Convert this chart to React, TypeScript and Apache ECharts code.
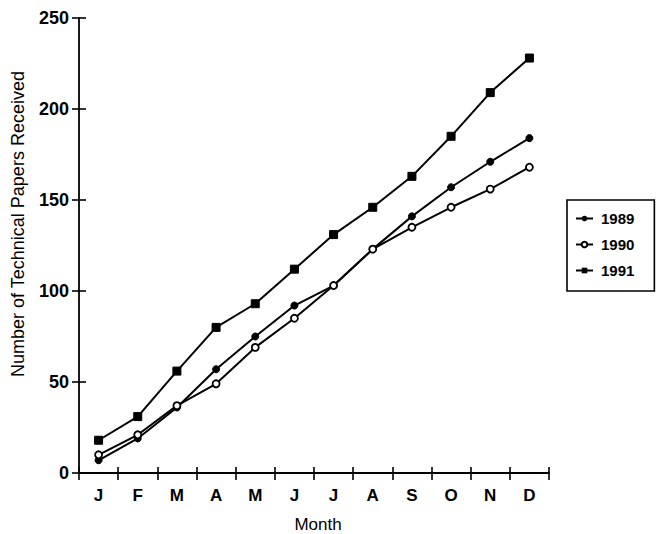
import React, { useEffect, useRef } from "react";
import * as echarts from "echarts";

const months = ["J", "F", "M", "A", "M", "J", "J", "A", "S", "O", "N", "D"];
const papers1989 = [7, 19, 36, 57, 75, 92, 103, 123, 141, 157, 171, 184];
const papers1990 = [10, 21, 37, 49, 69, 85, 103, 123, 135, 146, 156, 168];
const papers1991 = [18, 31, 56, 80, 93, 112, 131, 146, 163, 185, 209, 228];
const yTicks = { min: 0, max: 250, interval: 50 };

const FONT = "'Liberation Sans', Arial, Helvetica, sans-serif";

export default function App() {
  const ref = useRef<HTMLDivElement>(null);

  useEffect(() => {
    if (!ref.current) return;
    const chart = echarts.init(ref.current, null, { renderer: "svg" });
    const lineStyle = { color: "#000", width: 2 };
    const axisLine = { show: true, lineStyle: { color: "#000", width: 1.8 } };
    const tickStyle = { color: "#000", width: 1.6 };

    chart.setOption({
      animation: false,
      backgroundColor: "#fff",
      textStyle: { fontFamily: FONT },
      grid: { left: 79, right: 109, top: 18, bottom: 61, containLabel: false },
      xAxis: [
        {
          type: "category",
          data: months,
          position: "bottom",
          boundaryGap: true,
          axisLine,
          axisTick: { show: true, inside: false, length: 7, lineStyle: tickStyle },
          axisLabel: {
            color: "#000",
            fontSize: 17,
            fontWeight: "bold",
            fontFamily: FONT,
            margin: 14,
          },
          splitLine: { show: false },
        },
        {
          type: "category",
          data: months,
          position: "bottom",
          boundaryGap: true,
          axisLine: { show: false },
          axisTick: { show: true, inside: true, length: 6, lineStyle: tickStyle },
          axisLabel: { show: false },
          splitLine: { show: false },
        },
      ],
      yAxis: [
        {
          type: "value",
          position: "left",
          min: yTicks.min,
          max: yTicks.max,
          interval: yTicks.interval,
          axisLine,
          axisTick: { show: true, inside: false, length: 7, lineStyle: tickStyle },
          axisLabel: {
            color: "#000",
            fontSize: 18,
            fontWeight: "bold",
            fontFamily: FONT,
            margin: 10,
          },
          splitLine: { show: false },
        },
        {
          type: "value",
          position: "left",
          min: yTicks.min,
          max: yTicks.max,
          interval: yTicks.interval,
          axisLine: { show: false },
          axisTick: { show: true, inside: true, length: 7, lineStyle: tickStyle },
          axisLabel: { show: false },
          splitLine: { show: false },
        },
      ],
      legend: {
        orient: "vertical",
        left: 567,
        top: 200,
        padding: [11, 20, 13, 8],
        itemWidth: 17,
        itemHeight: 7,
        itemGap: 11,
        borderColor: "#000",
        borderWidth: 1.6,
        borderRadius: 0,
        backgroundColor: "#fff",
        textStyle: {
          color: "#000",
          fontSize: 15,
          fontWeight: "bold",
          fontFamily: FONT,
          lineHeight: 14,
          padding: [0, 0, 0, 3],
        },
        data: ["1989", "1990", "1991"],
      },
      graphic: [
        {
          type: "text",
          x: 18,
          y: 224,
          rotation: Math.PI / 2,
          style: {
            text: "Number of Technical Papers Received",
            fill: "#000",
            font: `18px ${FONT}`,
            textAlign: "center",
            textVerticalAlign: "middle",
          },
        },
        {
          type: "text",
          x: 318,
          y: 524,
          style: {
            text: "Month",
            fill: "#000",
            font: `17px ${FONT}`,
            textAlign: "center",
            textVerticalAlign: "middle",
          },
        },
      ],
      series: [
        {
          name: "1989",
          type: "line",
          xAxisIndex: 0,
          yAxisIndex: 0,
          data: papers1989,
          symbol: "circle",
          symbolSize: 7,
          showAllSymbol: true,
          lineStyle,
          itemStyle: { color: "#000", borderColor: "#000" },
        },
        {
          name: "1990",
          type: "line",
          xAxisIndex: 0,
          yAxisIndex: 0,
          data: papers1990,
          symbol: "circle",
          symbolSize: 7,
          showAllSymbol: true,
          lineStyle,
          itemStyle: { color: "#fff", borderColor: "#000", borderWidth: 1.8 },
        },
        {
          name: "1991",
          type: "line",
          xAxisIndex: 0,
          yAxisIndex: 0,
          data: papers1991,
          symbol: "rect",
          symbolSize: 8,
          showAllSymbol: true,
          lineStyle,
          itemStyle: { color: "#000", borderColor: "#000" },
        },
      ],
    });

    return () => chart.dispose();
  }, []);

  return (
    <div
      ref={ref}
      style={{ position: "fixed", left: 0, top: 0, width: 658, height: 534, background: "#fff" }}
    />
  );
}
